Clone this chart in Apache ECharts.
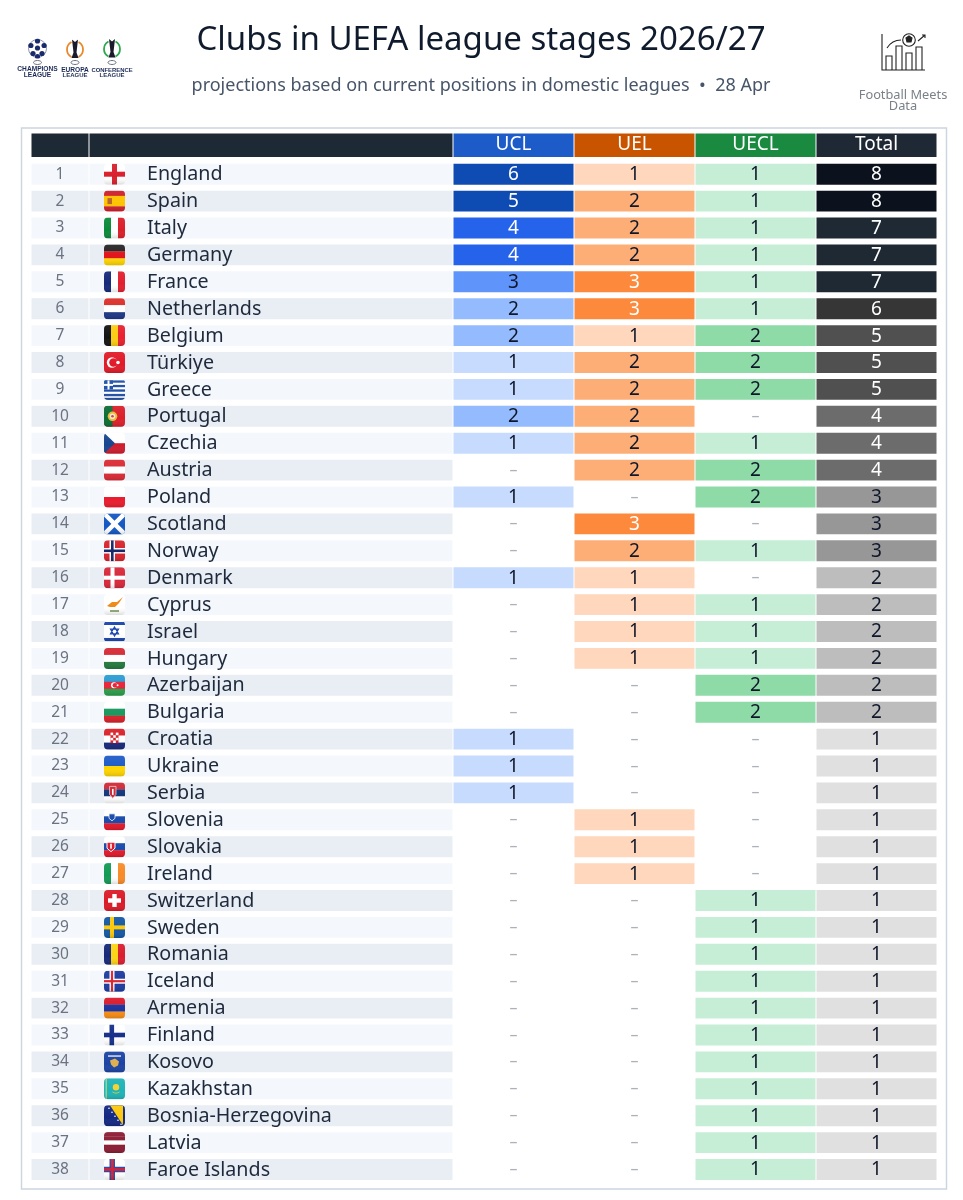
<!DOCTYPE html>
<html>
<head>
<meta charset="UTF-8">
<title>Clubs in UEFA league stages 2026/27</title>
<style>
html, body { margin: 0; padding: 0; background: #fff; }
#main { width: 963px; height: 1200px; }
</style>
</head>
<body>
<div id="main"></div>
<script src="https://cdn.jsdelivr.net/npm/echarts@6/dist/echarts.min.js"></script>
<script>
var countries = ['England','Spain','Italy','Germany','France','Netherlands','Belgium','Türkiye','Greece','Portugal','Czechia','Austria','Poland','Scotland','Norway','Denmark','Cyprus','Israel','Hungary','Azerbaijan','Bulgaria','Croatia','Ukraine','Serbia','Slovenia','Slovakia','Ireland','Switzerland','Sweden','Romania','Iceland','Armenia','Finland','Kosovo','Kazakhstan','Bosnia-Herzegovina','Latvia','Faroe Islands'];
var ucl   = [6,5,4,4,3,2,2,1,1,2,1,0,1,0,0,1,0,0,0,0,0,1,1,1,0,0,0,0,0,0,0,0,0,0,0,0,0,0];
var uel   = [1,2,2,2,3,3,1,2,2,2,2,2,0,3,2,1,1,1,1,0,0,0,0,0,1,1,1,0,0,0,0,0,0,0,0,0,0,0];
var uecl  = [1,1,1,1,1,1,2,2,2,0,1,2,2,0,1,0,1,1,1,2,2,0,0,0,0,0,0,1,1,1,1,1,1,1,1,1,1,1];
var total = [8,8,7,7,7,6,5,5,5,4,4,4,3,3,3,2,2,2,2,2,2,1,1,1,1,1,1,1,1,1,1,1,1,1,1,1,1,1];
var headers = ['', '', 'UCL', 'UEL', 'UECL', 'Total'];

var FONT = '"Noto Sans"';
var columnEdges = [0, 58, 422, 543, 664, 785, 906];
var headerColors = ['#1e2936', '#1e2936', '#1d5bc9', '#c95400', '#1a8a40', '#1f2935'];
var scales = {
    2: { 1: '#c7dbfe', 2: '#93bbfd', 3: '#5f94fa', 4: '#2563eb', 5: '#0e4bb3', 6: '#0e4bb3' },
    3: { 1: '#fed7bc', 2: '#fdae77', 3: '#fd8a3c' },
    4: { 1: '#c6eed6', 2: '#8edba8' },
    5: { 1: '#e0e0e0', 2: '#bdbdbd', 3: '#979797', 4: '#6c6c6c', 5: '#505050', 6: '#363636', 7: '#1f2933', 8: '#0c121d' }
};
var lightText = {
    2: function (v) { return v >= 4; },
    3: function (v) { return v >= 3; },
    4: function () { return false; },
    5: function (v) { return v >= 4; }
};

// flags, drawn on a 21x21 box
function H(c, extra) {
    return c.map(function (col, i) {
        return '<rect y="' + (i * 21 / c.length) + '" width="21" height="' + (21 / c.length + 0.2) + '" fill="' + col + '"/>';
    }).join('') + (extra || '');
}
function V(c, extra) {
    return c.map(function (col, i) {
        return '<rect x="' + (i * 21 / c.length) + '" height="21" width="' + (21 / c.length + 0.2) + '" fill="' + col + '"/>';
    }).join('') + (extra || '');
}
function R(x, y, w, h, f) {
    return '<rect x="' + x + '" y="' + y + '" width="' + w + '" height="' + h + '" fill="' + f + '"/>';
}
function C(x, y, r, f) {
    return '<circle cx="' + x + '" cy="' + y + '" r="' + r + '" fill="' + f + '"/>';
}
function cross(x, w, col) {
    return R(x, 0, w, 21, col) + R(0, 10.5 - w / 2, 21, w, col);
}
var flags = {
    'England': H(['#fff'], cross(8, 5, '#d9202e')),
    'Spain': H(['#d01f2a', '#ffc400', '#ffc400', '#d01f2a'], R(3.5, 7.5, 4.5, 6, '#b9652a')),
    'Italy': V(['#0b8a3a', '#fff', '#db1f2a']),
    'Germany': H(['#262626', '#e0161c', '#ffd500']),
    'France': V(['#16297a', '#fff', '#e21f30']),
    'Netherlands': H(['#dc2f2a', '#fff', '#1c3785']),
    'Belgium': V(['#141414', '#fbcc14', '#e9202f']),
    'Türkiye': H(['#e11a28'], C(8, 10.5, 5.2, '#fff') + C(9.4, 10.5, 4.2, '#e11a28') + C(14, 10.5, 1.8, '#fff')),
    'Greece': H(['#fff'], R(0, 1.5, 21, 2.3, '#1f50a8') + R(0, 6, 21, 2.3, '#1f50a8') + R(0, 10.5, 21, 2.3, '#1f50a8') + R(0, 15, 21, 2.3, '#1f50a8') + R(0, 19, 21, 2, '#1f50a8') + R(0, 1.5, 9, 9, '#1f50a8') + R(3.5, 1.5, 2, 9, '#fff') + R(0, 5, 9, 2, '#fff')),
    'Portugal': H(['#dc1f2a'], R(0, 0, 8.5, 21, '#0a6e35') + C(8.5, 10.5, 4.8, '#eabc34') + C(8.5, 10.5, 2.8, '#f3e7e2') + C(8.5, 10.5, 1.3, '#d8433c')),
    'Czechia': H(['#fff', '#cf1c2e'], '<path d="M0 0L11 10.5L0 21Z" fill="#17468f"/>'),
    'Austria': H(['#da2a34', '#fff', '#da2a34']),
    'Poland': H(['#fff', '#ea1c2e']),
    'Scotland': H(['#1458c4'], '<path d="M0 0L21 21M21 0L0 21" stroke="#fff" stroke-width="4.5"/>'),
    'Norway': H(['#d8232c'], cross(5.5, 5.5, '#fff') + cross(7, 2.6, '#15266b')),
    'Denmark': H(['#d8283a'], cross(6.5, 4, '#fff')),
    'Cyprus': H(['#fff'], '<path d="M3 12L8 8L13 8L19 3L15 9L11 13L6 13Z" fill="#ee8a18"/>' + R(6, 16, 9, 1.8, '#7fa26a')),
    'Israel': H(['#fff'], R(0, 1, 21, 3, '#1a43ac') + R(0, 17, 21, 3, '#1a43ac') + '<path d="M10.5 6L14.5 12.8H6.5ZM10.5 15L6.5 8.2H14.5Z" fill="none" stroke="#1a43ac" stroke-width="1.2"/>'),
    'Hungary': H(['#d62a34', '#fff', '#237a40']),
    'Azerbaijan': H(['#2a9cd2', '#e8263a', '#2a9e4a'], C(10, 10.5, 3, '#fff') + C(11, 10.5, 2.4, '#e8263a') + C(13.6, 10.5, 1, '#fff')),
    'Bulgaria': H(['#fff', '#189a60', '#da2129']),
    'Croatia': H(['#da2129', '#fff', '#17287b'], R(6.5, 4, 8, 10.5, '#da2129') + R(6.5, 4, 2.7, 2.6, '#fff') + R(11.8, 4, 2.7, 2.6, '#fff') + R(9.2, 6.6, 2.6, 2.6, '#fff') + R(6.5, 9.2, 2.7, 2.6, '#fff') + R(11.8, 9.2, 2.7, 2.6, '#fff') + R(9.2, 11.8, 2.6, 2.6, '#fff')),
    'Ukraine': H(['#1f5cc8', '#ffd500']),
    'Serbia': H(['#d02a36', '#17387c', '#fff'], '<path d="M5.5 4H12V12L8.8 16L5.5 12Z" fill="#d02a36" stroke="#fff" stroke-width=".6"/>' + R(8, 6.5, 1.6, 6, '#fff')),
    'Slovenia': H(['#fff', '#1a4cac', '#e2182a'], '<path d="M5 4.5H11V9L8 11.5L5 9Z" fill="#1a4cac" stroke="#fff" stroke-width=".8"/>'),
    'Slovakia': H(['#fff', '#1a4cac', '#e2182a'], '<path d="M3 6H11V12L7 15.5L3 12Z" fill="#e2182a" stroke="#fff" stroke-width="1"/>' + R(6.2, 7.5, 1.6, 5, '#fff')),
    'Ireland': V(['#129a54', '#fff', '#f98a28']),
    'Switzerland': H(['#dc1a28'], R(8.3, 4, 4.4, 13, '#fff') + R(4, 8.3, 13, 4.4, '#fff')),
    'Sweden': H(['#1558a4'], cross(6, 4, '#fcc80c')),
    'Romania': V(['#16297a', '#fcd414', '#da1e2e']),
    'Iceland': H(['#1d3ba0'], cross(5.5, 5, '#fff') + cross(6.9, 2.2, '#dc2430')),
    'Armenia': H(['#da1a2c', '#1c349e', '#f78c14']),
    'Finland': H(['#fff'], cross(5.5, 4.6, '#16308a')),
    'Kosovo': H(['#1c44a4'], '<path d="M6 9L11 7L15 10L14 14L10 16L7 13Z" fill="#e0b050"/>' + R(4, 4, 13, 1.3, '#f3f3f3')),
    'Kazakhstan': H(['#1eb4b8'], C(12, 9, 3.2, '#f4d234') + '<path d="M8 13Q12 16 16 13L15 14.5Q12 16 9 14.5Z" fill="#f4d234"/>' + R(1.5, 0, 1.5, 21, '#9bcf8c')),
    'Bosnia-Herzegovina': H(['#142882'], '<path d="M6 0H19V20Z" fill="#fcc80c"/>' + C(5, 3, 0.8, '#fff') + C(8, 7, 0.8, '#fff') + C(11, 11, 0.8, '#fff') + C(14, 15, 0.8, '#fff') + C(17, 19, 0.8, '#fff')),
    'Latvia': H(['#8b1c34', '#8b1c34', '#fff', '#8b1c34', '#8b1c34']),
    'Faroe Islands': H(['#fff'], cross(5.5, 5.5, '#264ca8') + cross(7, 2.6, '#d92236'))
};
function svgUrl(w, h, body) {
    return 'data:image/svg+xml;charset=utf-8,' + encodeURIComponent('<svg xmlns="http://www.w3.org/2000/svg" width="' + w + '" height="' + h + '" viewBox="0 0 ' + w + ' ' + h + '">' + body + '</svg>');
}
function flagUrl(name) {
    var body = '<defs><clipPath id="c"><rect width="21" height="21" rx="4"/></clipPath>' +
        '<linearGradient id="g" x1="0" y1="0" x2="0" y2="1"><stop offset="0" stop-color="#fff" stop-opacity=".06"/><stop offset=".6" stop-color="#fff" stop-opacity="0"/><stop offset="1" stop-color="#000" stop-opacity=".14"/></linearGradient></defs>' +
        '<g clip-path="url(#c)">' + flags[name] + '<rect width="21" height="21" fill="url(#g)"/></g>';
    return svgUrl(21, 21, body);
}
var ballLogo = svgUrl(20, 20, [[10,2.5],[16.6,7],[14.5,15],[5.5,15],[3.4,7],[10,9.5],[10,18]].map(function (p) { return C(p[0], p[1], 2.6, '#1b2a6b'); }).join('') + '<circle cx="10" cy="10" r="9" fill="none" stroke="#1b2a6b" stroke-width=".5"/>');
function trophyLogo(col) {
    return svgUrl(20, 20, '<path d="M6.5 2.5A8.5 8.5 0 0 0 6.5 17.5M13.5 2.5A8.5 8.5 0 0 1 13.5 17.5" fill="none" stroke="' + col + '" stroke-width="1.8"/><path d="M7 0L10 2.5L13 0L11.5 13L13.5 18.5H6.5L8.5 13Z" fill="#1a1a2a"/>');
}
var statsIcon = svgUrl(45, 39, '<g fill="none" stroke="#222" stroke-width="1.1"><path d="M1 1V37H44"/><path d="M5 37V23H11V37M15 37V13H21V37M25 37V20H31V37M35 37V14H41V37"/><path d="M6 15Q11 7 20 7"/><circle cx="28" cy="7" r="6.3"/><path d="M25 5L28 3L31 5L30 9H26Z" fill="#222"/><path d="M37 8L44 2M41 2H44V5"/></g>');

function smallCaption(text, x, y, size) {
    return { type: 'text', x: x, y: y, style: { text: text, fill: '#1b2a55', font: 'bold ' + size + 'px "Liberation Sans"', align: 'center', verticalAlign: 'middle' } };
}
function uefaMark(x) {
    return { type: 'ellipse', shape: { cx: x, cy: 62.5, rx: 4, ry: 2 }, style: { fill: 'none', stroke: '#6b7280', lineWidth: 1 } };
}

function renderHeader(params, api) {
    var col = api.value(0);
    var p0 = api.coord([columnEdges[col], 0]);
    var p1 = api.coord([columnEdges[col + 1], 0]);
    var h = api.size([0, 1])[1];
    var children = [{
        type: 'rect',
        shape: { x: p0[0] + 0.5, y: p0[1] - h / 2, width: p1[0] - p0[0] - 1, height: h },
        style: { fill: headerColors[col] }
    }];
    if (headers[col]) {
        children.push({
            type: 'text',
            style: { text: headers[col], x: (p0[0] + p1[0]) / 2, y: p0[1] - 1, align: 'center', verticalAlign: 'middle', fill: '#fff', fontSize: 19, fontFamily: FONT }
        });
    }
    return { type: 'group', children: children };
}

function renderRow(params, api) {
    var i = api.value(0);
    var p = api.coord([0, i]);
    var h = api.size([0, 1])[1] - 6;
    var bg = i % 2 ? '#e9eef5' : '#f4f7fc';
    var x1 = api.coord([columnEdges[1], i])[0];
    var x2 = api.coord([columnEdges[2], i])[0];
    return {
        type: 'group',
        children: [
            { type: 'rect', shape: { x: p[0] + 0.5, y: p[1] - h / 2, width: x1 - p[0] - 1, height: h }, style: { fill: bg } },
            { type: 'rect', shape: { x: x1 + 0.5, y: p[1] - h / 2, width: x2 - x1 - 1, height: h }, style: { fill: bg } },
            { type: 'text', style: { text: String(i + 1), x: (p[0] + x1) / 2, y: p[1], align: 'center', verticalAlign: 'middle', fill: '#6b7280', fontSize: 15.5, fontFamily: FONT } },
            { type: 'image', style: { image: flagUrl(countries[i]), x: x1 + 15, y: p[1] - 10.5, width: 21, height: 21 } },
            { type: 'text', style: { text: countries[i], x: x1 + 58, y: p[1] + 0.5, align: 'left', verticalAlign: 'middle', fill: '#1e293b', fontSize: 19.7, fontFamily: FONT } }
        ]
    };
}

function renderCell(params, api) {
    var col = api.value(0), i = api.value(1), v = api.value(2);
    var p0 = api.coord([columnEdges[col], i]);
    var p1 = api.coord([columnEdges[col + 1], i]);
    var h = api.size([0, 1])[1] - 6;
    var cx = (p0[0] + p1[0]) / 2;
    if (v === 0) {
        return { type: 'text', style: { text: '–', x: cx, y: p0[1], align: 'center', verticalAlign: 'middle', fill: '#adb2ba', fontSize: 16, fontFamily: FONT } };
    }
    return {
        type: 'group',
        children: [
            { type: 'rect', shape: { x: p0[0] + 0.5, y: p0[1] - h / 2, width: p1[0] - p0[0] - 1, height: h }, style: { fill: scales[col][v] } },
            { type: 'text', style: { text: String(v), x: cx, y: p0[1] + 0.5, align: 'center', verticalAlign: 'middle', fill: lightText[col](v) ? '#fff' : '#0f172a', fontSize: 19, fontFamily: FONT } }
        ]
    };
}

function column(col, values) {
    return {
        type: 'custom', xAxisIndex: 0, yAxisIndex: 0, renderItem: renderCell, silent: true,
        data: values.map(function (v, i) { return [col, i, v]; }),
        encode: { x: 0, y: 1 }
    };
}

var myChart = echarts.init(document.getElementById('main'));
var option = {
    animation: false,
    backgroundColor: '#fff',
    textStyle: { fontFamily: FONT },
    title: [
        { text: 'Clubs in UEFA league stages 2026/27', left: 476, top: 19, textAlign: 'center', textStyle: { color: '#0f1b2d', fontSize: 33, fontWeight: 'normal', fontFamily: FONT } },
        { text: 'projections based on current positions in domestic leagues  •  28 Apr', left: 476, top: 72, textAlign: 'center', textStyle: { color: '#475569', fontSize: 18, fontWeight: 'normal', fontFamily: FONT } }
    ],
    grid: [
        { left: 31, width: 906, top: 160.75, height: 1022.2 },
        { left: 31, width: 906, top: 133.5, height: 23.5 }
    ],
    xAxis: [
        { type: 'value', min: 0, max: 906, show: false, gridIndex: 0 },
        { type: 'value', min: 0, max: 906, show: false, gridIndex: 1 }
    ],
    yAxis: [
        { type: 'category', data: countries, inverse: true, show: false, gridIndex: 0 },
        { type: 'category', data: [''], show: false, gridIndex: 1 }
    ],
    series: [
        {
            type: 'custom', xAxisIndex: 1, yAxisIndex: 1, renderItem: renderHeader, silent: true,
            data: headers.map(function (h, i) { return [i]; })
        },
        {
            type: 'custom', xAxisIndex: 0, yAxisIndex: 0, renderItem: renderRow, silent: true,
            data: countries.map(function (c, i) { return [i]; })
        },
        column(2, ucl),
        column(3, uel),
        column(4, uecl),
        column(5, total)
    ],
    graphic: [
        { type: 'rect', shape: { x: 21.5, y: 128, width: 925, height: 1061 }, style: { fill: 'none', stroke: '#cdd5df', lineWidth: 1.5 } },
        { type: 'image', style: { image: ballLogo, x: 27.5, y: 38.5, width: 20, height: 20 } },
        { type: 'image', style: { image: trophyLogo('#e8892c'), x: 65, y: 39.5, width: 20, height: 20 } },
        { type: 'image', style: { image: trophyLogo('#2ea84f'), x: 102, y: 39, width: 20, height: 20 } },
        uefaMark(37.5),
        uefaMark(75),
        uefaMark(112),
        smallCaption('CHAMPIONS', 37.5, 69, 6.6),
        smallCaption('LEAGUE', 37.5, 75, 6.6),
        smallCaption('EUROPA', 75, 70, 6.6),
        smallCaption('LEAGUE', 75, 75.5, 6),
        smallCaption('CONFERENCE', 112, 70, 5.9),
        smallCaption('LEAGUE', 112, 75.5, 6),
        { type: 'image', style: { image: statsIcon, x: 881, y: 33, width: 45, height: 39 } },
        { type: 'text', x: 903, y: 95, style: { text: 'Football Meets', fill: '#7b8189', font: '12.8px "Noto Sans"', align: 'center', verticalAlign: 'middle' } },
        { type: 'text', x: 903, y: 106, style: { text: 'Data', fill: '#7b8189', font: '12.8px "Noto Sans"', align: 'center', verticalAlign: 'middle' } }
    ]
};
myChart.setOption(option);
</script>
</body>
</html>
